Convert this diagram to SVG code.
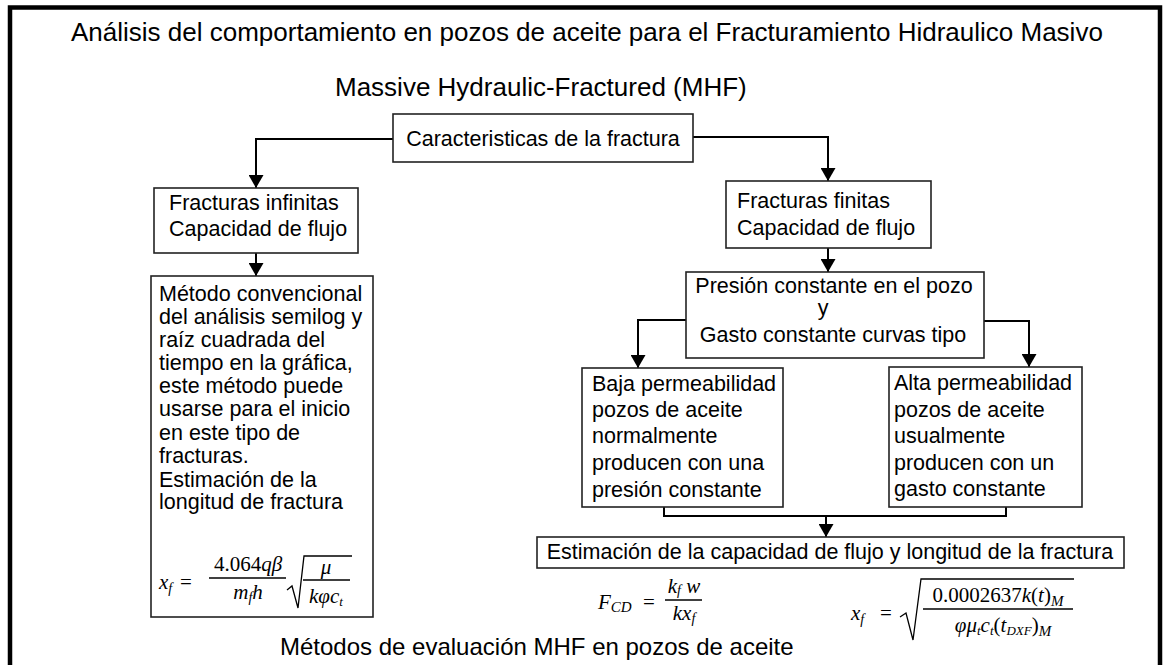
<svg xmlns="http://www.w3.org/2000/svg" width="1164" height="665" viewBox="0 0 1164 665">
<defs>
<style>
.box{fill:#fff;stroke:#222;stroke-width:1.6}
.t{font-family:"Liberation Sans",Arial,sans-serif;font-size:21.5px;fill:#000}
.ttl{font-family:"Liberation Sans",Arial,sans-serif;font-size:26px;fill:#000}
.conn{fill:none;stroke:#000;stroke-width:2}
.m{font-family:"Liberation Serif","Times New Roman",serif;font-style:italic;font-size:21px;fill:#000}
.mu{font-family:"Liberation Serif","Times New Roman",serif;font-style:normal;font-size:21px;fill:#000}
.bar{stroke:#000;stroke-width:1.3;fill:none}
</style>
<marker id="arr" viewBox="0 0 13 15" markerWidth="13" markerHeight="15" refX="13" refY="7.5" orient="auto" markerUnits="userSpaceOnUse">
<path d="M0,0 L13,7.5 L0,15 z" fill="#000"/>
</marker>
</defs>
<rect width="1164" height="665" fill="#fff"/>
<rect x="10" y="7.5" width="1150" height="700" fill="none" stroke="#000" stroke-width="4.5"/>

<g id="titles">
<text class="ttl" x="71" y="41">Análisis del comportamiento en pozos de aceite para el Fracturamiento Hidraulico Masivo</text>
<text class="ttl" x="335" y="96">Massive Hydraulic-Fractured (MHF)</text>
<text class="ttl" x="280" y="655" style="font-size:24px">Métodos de evaluación MHF en pozos de aceite</text>
</g>

<g id="connectors">
<path class="conn" d="M393,139 H256 V188" marker-end="url(#arr)"/>
<path class="conn" d="M693,137 H828 V181" marker-end="url(#arr)"/>
<path class="conn" d="M256,253 V276" marker-end="url(#arr)"/>
<path class="conn" d="M828,248 V272" marker-end="url(#arr)"/>
<path class="conn" d="M686,320 H638 V368" marker-end="url(#arr)"/>
<path class="conn" d="M984,321 H1029 V367" marker-end="url(#arr)"/>
<path class="conn" d="M664,507 V516 H1006 V507"/>
<path class="conn" d="M826,516 V537" marker-end="url(#arr)"/>
</g>

<g id="n-caracteristicas">
<rect class="box" x="393" y="114" width="300" height="48"/>
<text class="t" x="543" y="146" text-anchor="middle">Caracteristicas de la fractura</text>
</g>

<g id="n-infinitas">
<rect class="box" x="154" y="188" width="204" height="65"/>
<text class="t" x="169" y="210">Fracturas infinitas</text>
<text class="t" x="169" y="236">Capacidad de flujo</text>
</g>

<g id="n-metodo">
<rect class="box" x="151" y="276" width="222" height="341"/>
<text class="t" x="159" y="301">Método convencional</text>
<text class="t" x="159" y="324">del análisis semilog y</text>
<text class="t" x="159" y="347">raíz cuadrada del</text>
<text class="t" x="159" y="370">tiempo en la gráfica,</text>
<text class="t" x="159" y="393">este método puede</text>
<text class="t" x="159" y="416">usarse para el inicio</text>
<text class="t" x="159" y="440">en este tipo de</text>
<text class="t" x="159" y="463">fracturas.</text>
<text class="t" x="159" y="487">Estimación de la</text>
<text class="t" x="159" y="509">longitud de fractura</text>
<text class="m" x="159" y="589" font-size="22">x<tspan font-size="14" dy="4">f</tspan></text>
<text class="mu" x="180" y="589" font-size="22">=</text>
<text class="mu" x="248" y="571" text-anchor="middle" font-size="22">4.064<tspan font-style="italic">qβ</tspan></text>
<line class="bar" x1="209" y1="578" x2="286" y2="578"/>
<text class="m" x="248" y="599" text-anchor="middle" font-size="22">m<tspan font-size="14" dy="3">f</tspan><tspan dy="-3">h</tspan></text>
<path class="bar" d="M287,590 L292,586 L298,608 L304,556 H352"/>
<text class="m" x="326" y="574" text-anchor="middle">μ</text>
<line class="bar" x1="303" y1="580" x2="350" y2="580"/>
<text class="m" x="326" y="603" text-anchor="middle">kφc<tspan font-size="13" dy="3">t</tspan></text>
</g>

<g id="n-finitas">
<rect class="box" x="726" y="181" width="205" height="67"/>
<text class="t" x="737" y="208">Fracturas finitas</text>
<text class="t" x="737" y="235">Capacidad de flujo</text>
</g>

<g id="n-presion">
<rect class="box" x="686" y="272" width="298" height="86"/>
<text class="t" x="834" y="293" text-anchor="middle">Presión constante en el pozo</text>
<text class="t" x="823" y="315" text-anchor="middle">y</text>
<text class="t" x="833" y="342" text-anchor="middle">Gasto constante curvas tipo</text>
</g>

<g id="n-baja">
<rect class="box" x="582" y="368" width="201" height="139"/>
<text class="t" x="592" y="391">Baja permeabilidad</text>
<text class="t" x="592" y="417">pozos de aceite</text>
<text class="t" x="592" y="443">normalmente</text>
<text class="t" x="592" y="470">producen con una</text>
<text class="t" x="592" y="497">presión constante</text>
</g>

<g id="n-alta">
<rect class="box" x="889" y="367" width="193" height="140"/>
<text class="t" x="894" y="390">Alta permeabilidad</text>
<text class="t" x="894" y="417">pozos de aceite</text>
<text class="t" x="894" y="443">usualmente</text>
<text class="t" x="894" y="470">producen con un</text>
<text class="t" x="894" y="496">gasto constante</text>
</g>

<g id="n-estimacion">
<rect class="box" x="537" y="537" width="587" height="31"/>
<text class="t" x="830" y="559" text-anchor="middle">Estimación de la capacidad de flujo y longitud de la fractura</text>
<text class="m" x="598" y="609" font-size="23">F<tspan font-size="15" dy="3">CD</tspan></text>
<text class="mu" x="643" y="609" font-size="23">=</text>
<text class="m" x="684" y="593" text-anchor="middle" font-size="22">k<tspan font-size="14" dy="2">f</tspan><tspan dy="-2"> w</tspan></text>
<line class="bar" x1="665" y1="600" x2="702" y2="600"/>
<text class="m" x="684" y="620" text-anchor="middle" font-size="22">kx<tspan font-size="14" dy="3">f</tspan></text>
<text class="m" x="851" y="620" font-size="22">x<tspan font-size="14" dy="4">f</tspan></text>
<text class="mu" x="880" y="620" font-size="22">=</text>
<path class="bar" d="M900,617 L906,613 L913,640 L921,579 H1074"/>
<text class="mu" x="998" y="602" text-anchor="middle" font-size="23">0.0002637<tspan font-style="italic">k</tspan>(<tspan font-style="italic">t</tspan>)<tspan font-style="italic" font-size="15" dy="4">M</tspan></text>
<line class="bar" x1="923" y1="609" x2="1073" y2="609"/>
<text class="m" x="1003" y="632" text-anchor="middle">φμ<tspan font-size="13" dy="3">t</tspan><tspan dy="-3">c</tspan><tspan font-size="13" dy="3">t</tspan><tspan font-style="normal" dy="-3">(</tspan>t<tspan font-size="13" dy="3">DXF</tspan><tspan font-style="normal" dy="-3">)</tspan><tspan font-size="15" dy="4">M</tspan></text>
</g>
</svg>
